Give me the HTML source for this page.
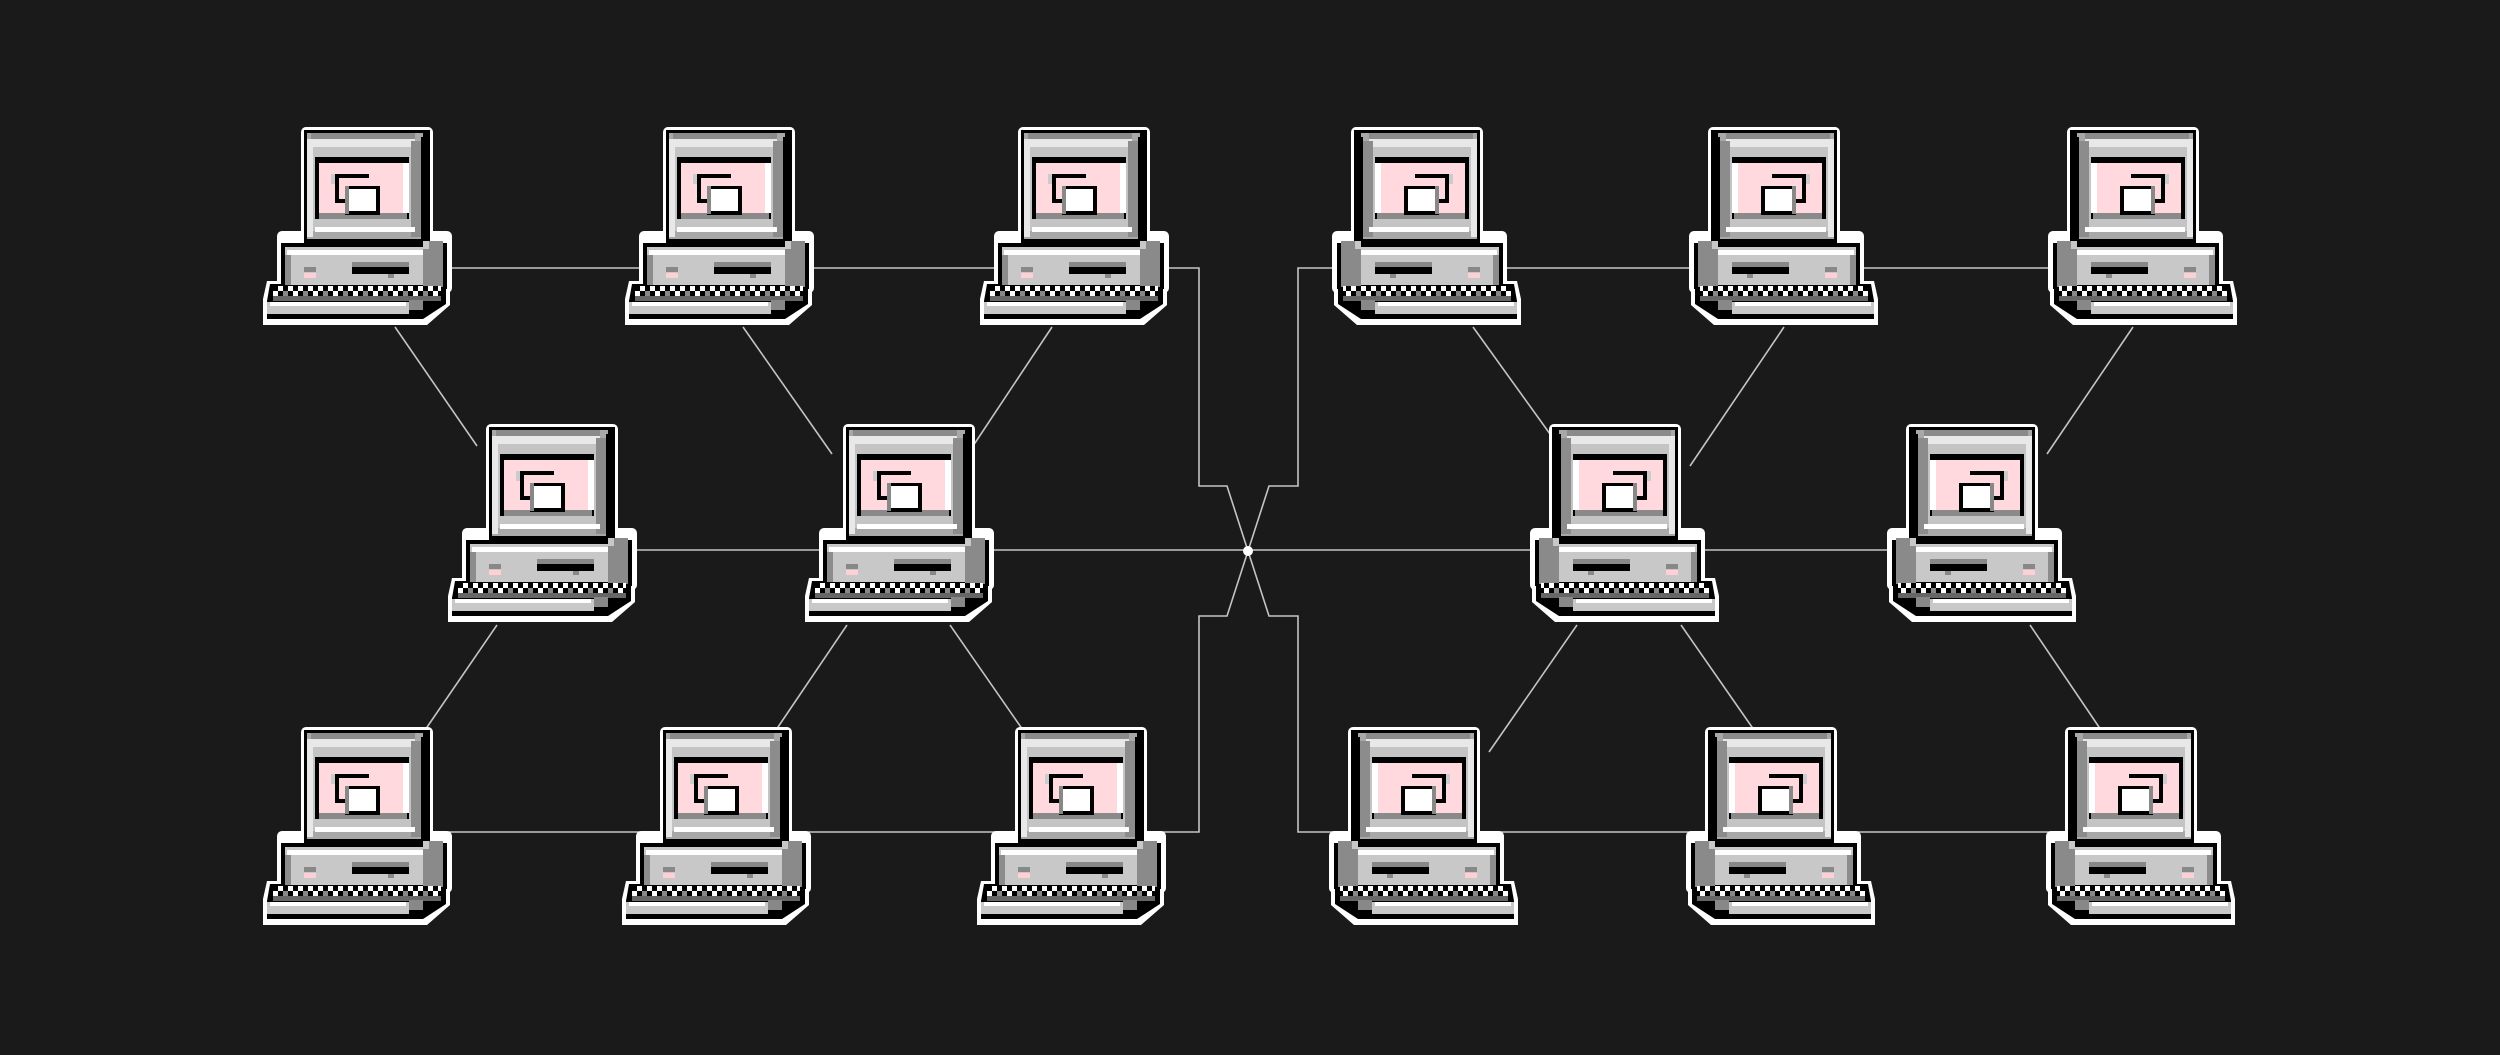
<!DOCTYPE html>
<html><head><meta charset="utf-8"><style>html,body{margin:0;padding:0;background:#1a1a1a;}svg{display:block}</style></head>
<body>
<svg width="2500" height="1055" viewBox="0 0 2500 1055" xmlns="http://www.w3.org/2000/svg">
<rect width="2500" height="1055" fill="#1a1a1a"/>
<defs>
<pattern id="kb" x="18" y="167" width="20" height="15" patternUnits="userSpaceOnUse">
<rect width="20" height="15" fill="#888"/>
<rect x="0" y="0" width="5" height="5" fill="#000"/><rect x="5" y="0" width="5" height="5" fill="#fff"/>
<rect x="10" y="0" width="5" height="5" fill="#000"/><rect x="15" y="0" width="5" height="5" fill="#fff"/>
<rect x="0" y="5" width="5" height="5" fill="#fff"/><rect x="5" y="5" width="5" height="5" fill="#000"/>
<rect x="10" y="5" width="5" height="5" fill="#888"/><rect x="15" y="5" width="5" height="5" fill="#000"/>
<rect x="0" y="10" width="20" height="5" fill="#666"/>
</pattern>
<g id="pc">
<rect x="46" y="8" width="132" height="122" rx="5" fill="#fff"/>
<rect x="22" y="112" width="175" height="62" rx="5" fill="#fff"/>
<polygon points="12,162 195,162 195,186 172,206 8,206 8,180" fill="#fff"/>
<rect x="49" y="11" width="126" height="116" fill="#000"/>
<rect x="26" y="124" width="166" height="46" fill="#000"/>
<polygon points="15,165 191,165 191,185 168,200 12,200 12,182" fill="#000"/>
<rect x="52" y="14" width="116" height="106" fill="#a8a8a8"/>
<rect x="56" y="14" width="104" height="6" fill="#8a8a8a"/>
<rect x="56" y="20" width="104" height="8" fill="#e8e8e8"/>
<rect x="52" y="20" width="6" height="98" fill="#e8e8e8"/>
<rect x="58" y="28" width="98" height="84" fill="#c4c4c4"/>
<rect x="156" y="22" width="10" height="96" fill="#8c8c8c"/>
<rect x="166" y="18" width="6" height="104" fill="#000"/>
<rect x="60" y="108" width="100" height="5" fill="#fff"/>
<rect x="60" y="38" width="94" height="62" fill="#000"/>
<rect x="64" y="44" width="84" height="50" fill="#ffd9de"/>
<rect x="64" y="94" width="88" height="6" fill="#8a8a8a"/>
<rect x="148" y="44" width="6" height="50" fill="#fff"/>
<rect x="80" y="55" width="34" height="4" fill="#000"/>
<rect x="80" y="55" width="4" height="28" fill="#000"/>
<rect x="76" y="55" width="4" height="10" fill="#ccc"/>
<rect x="80" y="80" width="10" height="4" fill="#000"/>
<rect x="90" y="67" width="34" height="28" fill="#fff"/>
<rect x="90" y="67" width="34" height="3" fill="#000"/>
<rect x="121" y="67" width="4" height="28" fill="#000"/>
<rect x="90" y="92" width="35" height="4" fill="#000"/>
<rect x="90" y="67" width="4" height="28" fill="#888"/>
<rect x="30" y="128" width="140" height="38" fill="#c8c8c8"/>
<rect x="32" y="131" width="136" height="5" fill="#fff"/>
<rect x="30" y="136" width="6" height="30" fill="#8c8c8c"/>
<rect x="168" y="122" width="20" height="46" fill="#8a8a8a"/>
<rect x="168" y="122" width="6" height="8" fill="#c8c8c8"/>
<rect x="97" y="143" width="57" height="5" fill="#888"/>
<rect x="97" y="148" width="57" height="7" fill="#000"/>
<rect x="133" y="155" width="6" height="4" fill="#888"/>
<rect x="49" y="148" width="12" height="5" fill="#888"/>
<rect x="49" y="154" width="12" height="5" fill="#ffcfd6"/>
<rect x="18" y="167" width="168" height="15" fill="url(#kb)"/>
<rect x="12" y="183" width="142" height="12" fill="#c8c8c8"/>
<rect x="15" y="183" width="136" height="4" fill="#fff"/>
<rect x="12" y="195" width="145" height="5" fill="#000"/>
<rect x="154" y="181" width="14" height="10" fill="#888"/>
</g>
</defs>
<g stroke="#c4c4c4" stroke-width="1.6" fill="none">
<polyline points="354,268 1199,268 1199,486 1227,486 1248,551 1269,616 1298,616 1298,832 2144,832"/>
<polyline points="354,832 1199,832 1199,616 1227,616 1248,551 1269,486 1298,486 1298,268 2146,268"/>
<line x1="539" y1="550" x2="1985" y2="550"/>
<line x1="395" y1="327" x2="477" y2="446"/>
<line x1="743" y1="327" x2="832" y2="454"/>
<line x1="1052" y1="327" x2="973" y2="446"/>
<line x1="1473" y1="327" x2="1550" y2="434"/>
<line x1="1784" y1="327" x2="1690" y2="466"/>
<line x1="2133" y1="327" x2="2047" y2="454"/>
<line x1="497" y1="625" x2="423" y2="733"/>
<line x1="847" y1="625" x2="776" y2="730"/>
<line x1="950" y1="625" x2="1025" y2="733"/>
<line x1="1577" y1="625" x2="1489" y2="752"/>
<line x1="1681" y1="625" x2="1754" y2="730"/>
<line x1="2030" y1="625" x2="2101" y2="730"/>
</g>
<circle cx="1248" cy="551" r="5" fill="#fff"/>
<use href="#pc" transform="translate(255,119)"/>
<use href="#pc" transform="translate(617,119)"/>
<use href="#pc" transform="translate(972,119)"/>
<use href="#pc" transform="translate(440,416)"/>
<use href="#pc" transform="translate(797,416)"/>
<use href="#pc" transform="translate(255,719)"/>
<use href="#pc" transform="translate(614,719)"/>
<use href="#pc" transform="translate(969,719)"/>
<use href="#pc" transform="translate(1430,226) scale(-1,1) translate(-99,-107)"/>
<use href="#pc" transform="translate(1787,226) scale(-1,1) translate(-99,-107)"/>
<use href="#pc" transform="translate(2146,226) scale(-1,1) translate(-99,-107)"/>
<use href="#pc" transform="translate(1628,523) scale(-1,1) translate(-99,-107)"/>
<use href="#pc" transform="translate(1985,523) scale(-1,1) translate(-99,-107)"/>
<use href="#pc" transform="translate(1427,826) scale(-1,1) translate(-99,-107)"/>
<use href="#pc" transform="translate(1784,826) scale(-1,1) translate(-99,-107)"/>
<use href="#pc" transform="translate(2144,826) scale(-1,1) translate(-99,-107)"/>
</svg>
</body></html>
